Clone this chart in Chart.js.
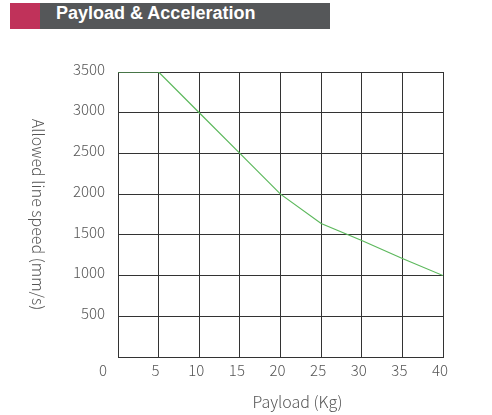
<!DOCTYPE html>
<html>
<head>
<meta charset="utf-8">
<script src="https://cdn.jsdelivr.net/npm/chart.js@4.4.0/dist/chart.umd.min.js"></script>
<style>
    body { margin: 0; background: #fff; }
    #wrap { position: relative; width: 492px; height: 415px; }
    #titulo { position: absolute; left: 10px; top: 3px; width: 320px; height: 26px; background: #555759; z-index: 2; }
    #titulo .marca { position: absolute; left: 0; top: 0; width: 30px; height: 26px; background: #c0325a; }
    #titulo span { position: absolute; left: 46px; top: 0; line-height: 26px; color: #fff; font: bold 18px "Liberation Sans", Arial, sans-serif; }
    canvas { position: absolute; left: 0; top: 0; }
</style>
</head>
<body>
<div id="wrap">
    <div id="titulo"><div class="marca"></div><span>Payload &amp; Acceleration</span></div>
    <canvas id="myGrafic" width="492" height="415"></canvas>
</div>
<script>
// dados
var cargas = [0, 5, 10, 15, 20, 25, 30, 35, 40];
var velocidades = [3500, 3500, 3000, 2500, 2000, 1640, 1430, 1210, 1000];
var limiteX = [0, 40];
var limiteY = [0, 3500];
var passoX = 5;
var passoY = 500;
var tituloX = 'Payload (Kg)';
var tituloY = 'Allowed line speed (mm/s)';

var corTexto = '#555';
var corGrade = '#333';
var fonte = '"Noto Sans CJK SC", "Noto Sans", sans-serif';

const textosEixos = {
    id: 'textosEixos',
    afterDraw(chart) {
        const { ctx, chartArea, scales } = chart;
        ctx.save();
        ctx.fillStyle = corTexto;
        // o zero fica deslocado para a esquerda no original
        ctx.font = '300 15px ' + fonte;
        ctx.textAlign = 'right';
        ctx.textBaseline = 'middle';
        ctx.fillText('0', scales.x.getPixelForValue(0) - 11, chartArea.bottom + 13);

        ctx.font = '300 16px ' + fonte;
        ctx.textAlign = 'center';
        ctx.fillText(tituloX, (chartArea.left + chartArea.right) / 2 + 17, chartArea.bottom + 45);

        ctx.translate(38, (chartArea.top + chartArea.bottom) / 2);
        ctx.rotate(Math.PI / 2);
        ctx.fillText(tituloY, 0, 0);
        ctx.restore();
    }
};

var pontos = cargas.map((c, i) => ({ x: c, y: velocidades[i] }));

var ctx = document.getElementById('myGrafic').getContext('2d');
var myChart = new Chart(ctx, {
    type: 'line',
    data: {
        datasets: [{
            data: pontos,
            borderColor: '#5cb85c',
            borderWidth: 1.2,
            pointRadius: 0,
            tension: 0,
            fill: false
        }]
    },
    options: {
        responsive: false,
        animation: false,
        layout: { padding: { top: 72, right: 49, left: 0, bottom: 0 } },
        plugins: { legend: { display: false }, tooltip: { enabled: false } },
        scales: {
            x: {
                type: 'linear',
                min: limiteX[0],
                max: limiteX[1],
                afterFit: s => { s.height = 58; },
                grid: { color: corGrade, lineWidth: 1, drawTicks: false },
                border: { display: true, color: corGrade, width: 1 },
                ticks: {
                    stepSize: passoX,
                    padding: 4,
                    labelOffset: -3,
                    maxRotation: 0,
                    color: corTexto,
                    font: { family: fonte, size: 15, weight: '300' },
                    callback: v => v === 0 ? '' : v
                }
            },
            y: {
                min: limiteY[0],
                max: limiteY[1],
                afterFit: s => { s.width = 118; },
                grid: { color: corGrade, lineWidth: 1, drawTicks: false },
                border: { display: true, color: corGrade, width: 1 },
                ticks: {
                    stepSize: passoY,
                    padding: 13,
                    labelOffset: -3,
                    color: corTexto,
                    font: { family: fonte, size: 15, weight: '300' },
                    callback: v => v === 0 ? '' : v
                }
            }
        }
    },
    plugins: [textosEixos]
});
</script>
</body>
</html>
